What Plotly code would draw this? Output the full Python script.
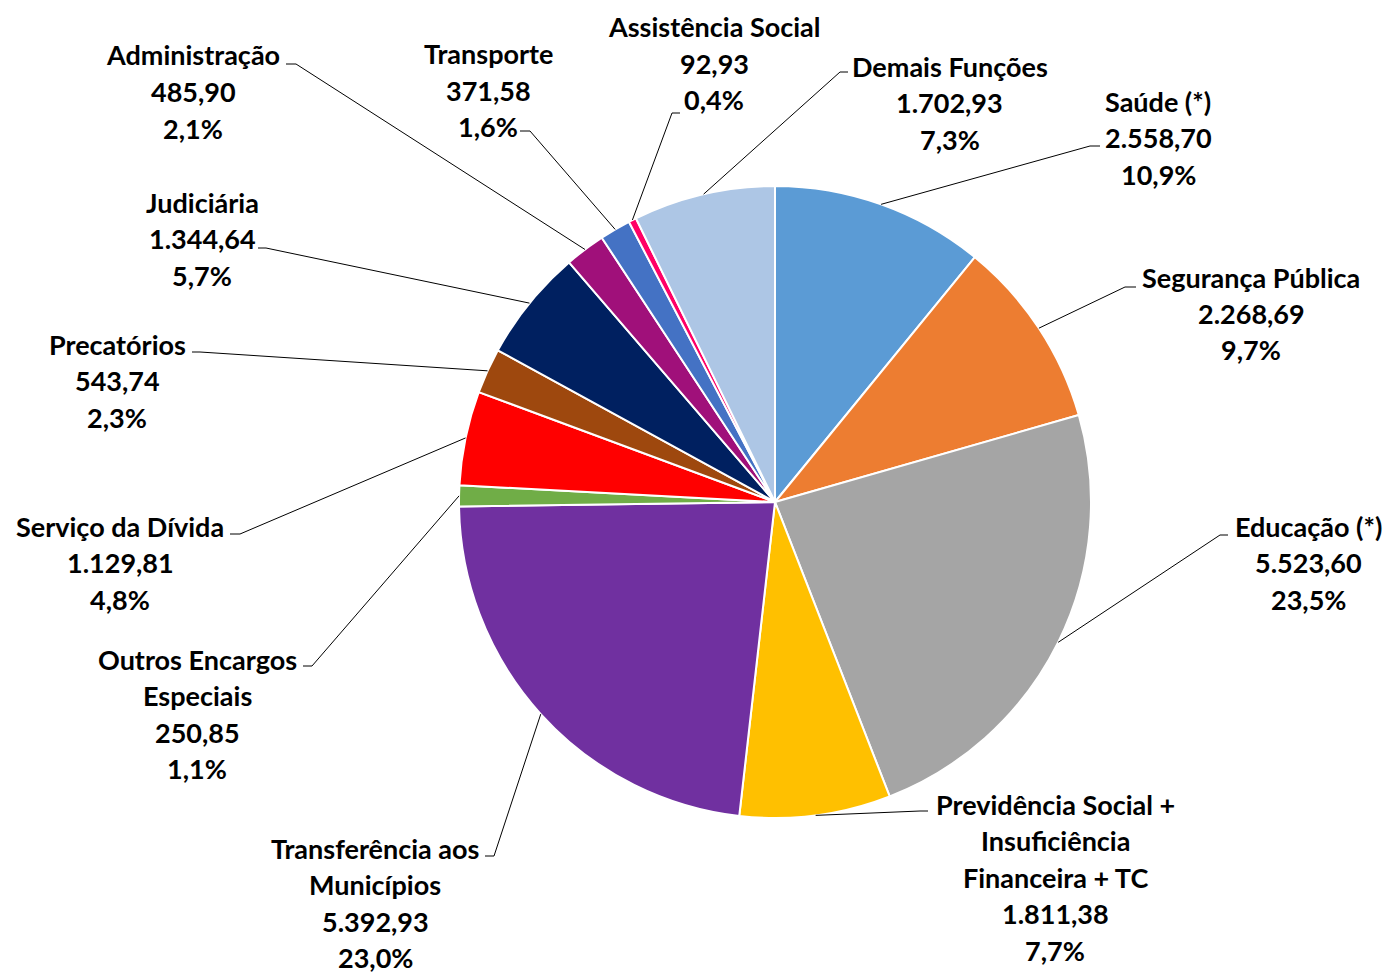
import math

import plotly.graph_objects as go

W, H = 1391, 974
PAGE_OFFSET = 8  # body margin of the page the figure is written into

names = [
    ["Saúde (*)"],
    ["Segurança Pública"],
    ["Educação (*)"],
    ["Previdência Social +", "Insuficiência", "Financeira + TC"],
    ["Transferência aos", "Municípios"],
    ["Outros Encargos", "Especiais"],
    ["Serviço da Dívida"],
    ["Precatórios"],
    ["Judiciária"],
    ["Administração"],
    ["Transporte"],
    ["Assistência Social"],
    ["Demais Funções"],
]
values = [2558.70, 2268.69, 5523.60, 1811.38, 5392.93, 250.85, 1129.81,
          543.74, 1344.64, 485.90, 371.58, 92.93, 1702.93]
colors = ["#5B9BD5", "#ED7D31", "#A5A5A5", "#FFC000", "#7030A0", "#70AD47",
          "#FF0000", "#9E480E", "#002060", "#A0107A", "#4472C4", "#FF0066",
          "#ADC6E5"]

# label layout in page pixels: (centre x, first line y), leader elbow and end point
label_pos = [(1158, 101), (1251, 277), (1308, 526), (1055, 804), (375, 848),
             (197, 659), (120, 526), (117, 344), (202, 202), (193, 55),
             (488, 54), (714, 27), (950, 66)]
leader = [((1090, 146), (1100, 146)), ((1125, 287), (1136, 287)),
          ((1220, 535), (1228, 535)), ((920, 811), (928, 811)),
          ((494, 856), (485, 856)), ((312, 666), (303, 666)),
          ((240, 534), (230, 534)), ((200, 352), (192, 352)),
          ((266, 248), (258, 248)), ((296, 64), (286, 64)),
          ((530, 131), (520, 131)), ((672, 113), (680, 113)),
          ((840, 72), (848, 72))]

CX, CY, R = 775, 502, 316
LINE_STEP = 36.5
FONT = dict(family="Lato, Calibri, sans-serif", size=27, color="black", weight="bold")


def br_number(v, decimals=2):
    s = f"{v:,.{decimals}f}"
    return s.replace(",", "X").replace(".", ",").replace("X", ".")


def px(x, y):
    return (x - PAGE_OFFSET) / W, 1 - (y - PAGE_OFFSET) / H


d0, d1 = px(CX - R, CY + R), px(CX + R, CY - R)
fig = go.Figure(
    go.Pie(
        values=values,
        marker=dict(colors=colors, line=dict(color="white", width=2)),
        sort=False,
        direction="clockwise",
        rotation=0,
        textinfo="none",
        hoverinfo="skip",
        showlegend=False,
        domain=dict(x=[d0[0], d1[0]], y=[d0[1], d1[1]]),
    )
)

total = sum(values)
annotations = []
shapes = []
cum = 0.0
for i, v in enumerate(values):
    mid = (cum + v / 2) / total
    cum += v
    ang = 2 * math.pi * mid
    ax, ay = CX + R * math.sin(ang), CY - R * math.cos(ang)
    (ex, ey), (tx, ty) = leader[i]
    p0, p1, p2 = px(ax, ay), px(ex, ey), px(tx, ty)
    shapes.append(dict(
        type="path", xref="paper", yref="paper",
        path=f"M {p0[0]},{p0[1]} L {p1[0]},{p1[1]} L {p2[0]},{p2[1]}",
        line=dict(color="black", width=1),
    ))
    lines = names[i] + [br_number(v), br_number(100 * v / total, 1) + "%"]
    lx, ly = label_pos[i]
    for k, t in enumerate(lines):
        x, y = px(lx, ly + k * LINE_STEP)
        annotations.append(dict(
            x=x, y=y, xref="paper", yref="paper", text=t, showarrow=False,
            xanchor="center", yanchor="middle", font=FONT,
        ))

fig.update_layout(
    width=W,
    height=H,
    margin=dict(l=0, r=0, t=0, b=0),
    paper_bgcolor="white",
    plot_bgcolor="white",
    annotations=annotations,
    shapes=shapes,
)

fig.write_html("out.html")
